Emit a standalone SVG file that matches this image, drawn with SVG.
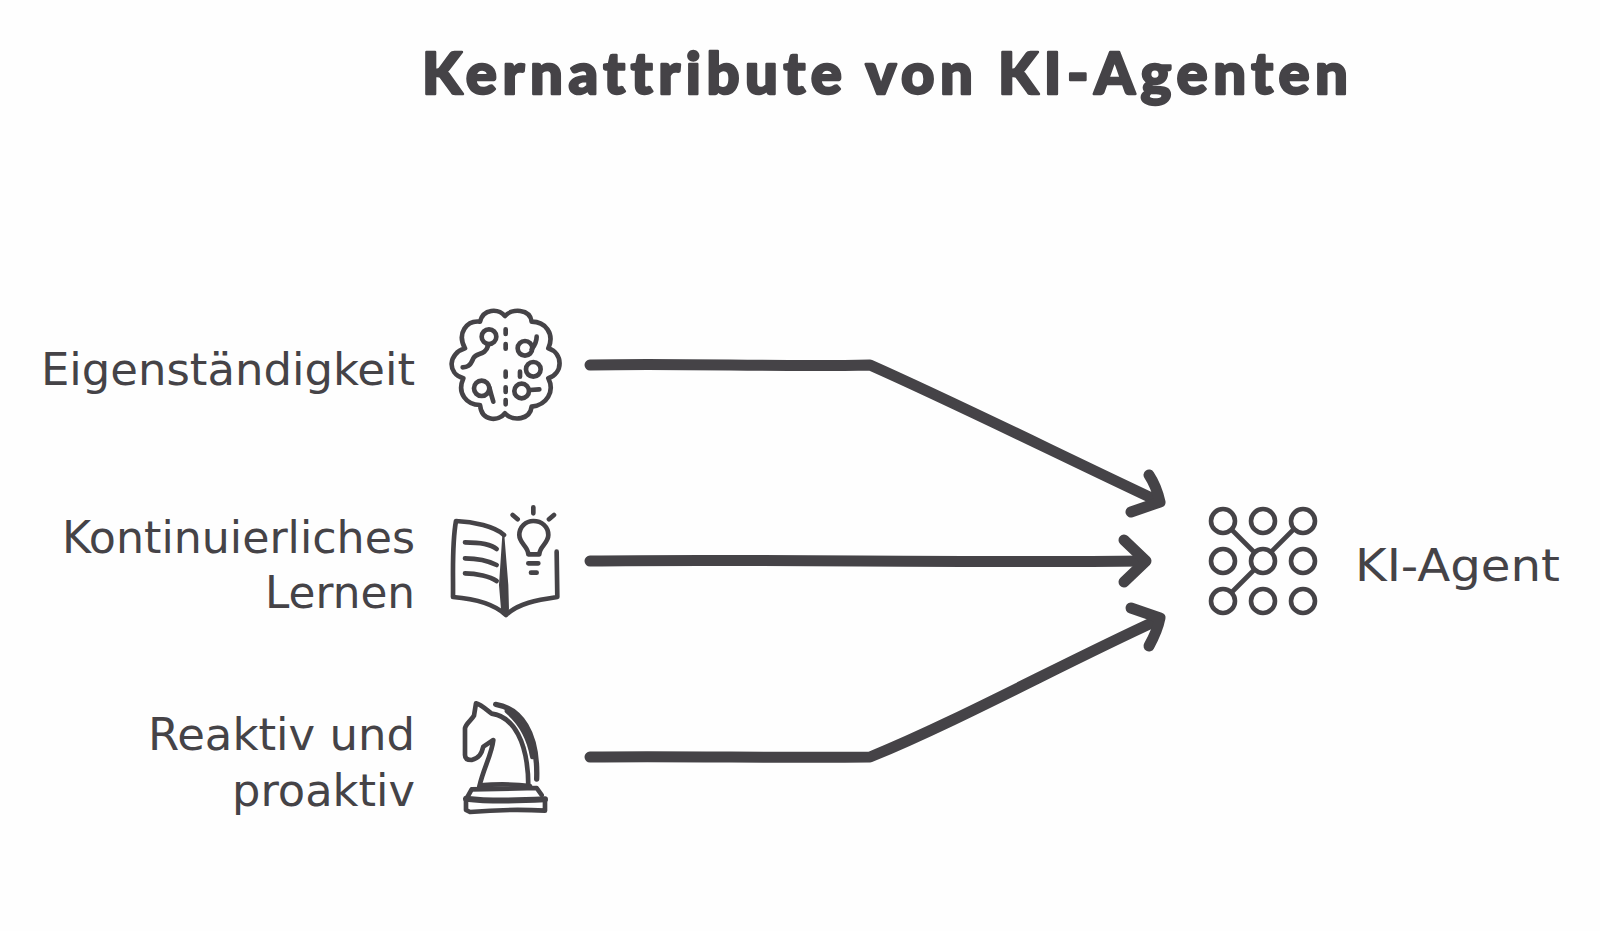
<svg xmlns="http://www.w3.org/2000/svg" width="1600" height="931" viewBox="0 0 1600 931">
<style>
text{fill:#454347;font-variant-ligatures:none}
.t{font-family:"Lato","Open Sans",sans-serif;font-size:58px;font-weight:900;stroke:#454347;stroke-width:2.4;stroke-linejoin:round}
.l{font-family:"DejaVu Sans","Lato",sans-serif;font-size:45px;font-weight:400}
.ic{fill:none;stroke:#454347;stroke-width:14;stroke-linecap:round;stroke-linejoin:round}
.n{fill:none;stroke:#454347;stroke-width:4.6;stroke-linecap:round}
.c{fill:none;stroke:#454347;stroke-width:11;stroke-linecap:round;stroke-linejoin:round}
</style>
<rect width="1600" height="931" fill="#fefefe"/>
<text id="title" class="t" x="422" y="94" textLength="926" lengthAdjust="spacing">Kernattribute von KI-Agenten</text>
<g id="connectors">
<path class="c" d="M590 365C680 363 780 367 870 365C960 405 1060 455 1158 501"/>
<path class="c" d="M1149 475C1155 484 1158 493 1160 502L1131 512"/>
<path class="c" d="M590 561C760 559 960 563 1144 561"/>
<path class="c" d="M1124 540L1146 561L1124 582"/>
<path class="c" d="M590 757C680 756 780 758 870 757C960 720 1060 665 1158 620"/>
<path class="c" d="M1131 608L1160 618C1158 628 1154 637 1149 646"/>
</g>
<g id="node-eigen">
<text class="l" x="41" y="385" textLength="374" lengthAdjust="spacingAndGlyphs">Eigenständigkeit</text>
<g class="ic" transform="translate(420 290) scale(.3333)">
<path d="M255 78C235 55 190 55 180 95C140 90 110 130 135 175C85 190 80 250 130 265C110 310 140 345 180 345C185 395 235 395 255 370C280 395 330 390 335 350C380 345 405 305 385 265C430 250 430 190 385 175C405 130 375 95 335 95C330 55 275 55 255 78Z"/>
<path d="M257 118V132M257 162V176M257 245V260M257 292V306M257 330V343M300 245V260"/>
<circle cx="207" cy="140" r="22"/>
<path d="M205 165C195 200 170 185 160 205C150 230 140 232 128 232"/>
<circle cx="315" cy="175" r="22"/>
<path d="M335 178C345 165 350 155 350 140"/>
<circle cx="340" cy="238" r="22"/>
<circle cx="185" cy="295" r="23"/>
<path d="M208 292C212 308 216 322 220 335"/>
<circle cx="305" cy="303" r="22"/>
<path d="M330 300L358 298"/>
</g>
</g>
<g id="node-lernen">
<text class="l" x="62" y="553" textLength="353" lengthAdjust="spacingAndGlyphs">Kontinuierliches</text>
<text class="l" x="265" y="608" textLength="150" lengthAdjust="spacingAndGlyphs">Lernen</text>
<g class="ic" transform="translate(420 485) scale(.3333)">
<path d="M252 150C225 125 160 110 108 108C95 180 100 260 99 336C150 340 215 350 258 390C295 355 350 345 412 336L410 200"/>
<path fill="#454347" stroke-width="6" d="M250 150L240 300L246 372L258 392L264 372L262 300Z"/>
<path d="M135 172C175 172 210 175 230 192M135 220C175 220 210 230 230 240M135 265C170 265 210 275 230 288"/>
<path d="M325 208C325 185 298 175 298 150C298 125 318 108 340 108C365 108 385 125 385 150C385 175 358 185 358 208Z"/>
<path d="M325 235H355M333 263H350M340 67V85M278 90L293 103M402 90L387 103"/>
</g>
</g>
<g id="node-reaktiv">
<text class="l" x="148" y="750" textLength="267" lengthAdjust="spacingAndGlyphs">Reaktiv und</text>
<text class="l" x="232" y="806" textLength="183" lengthAdjust="spacingAndGlyphs">proaktiv</text>
<g class="ic" transform="translate(430 675) scale(.3333)">
<path d="M148 335C160 280 185 240 190 195L160 215C155 235 148 250 125 255C112 255 105 250 105 240V160C108 145 125 135 132 122L138 85C155 90 170 105 185 116C250 125 295 200 295 335"/>
<path stroke-width="16" d="M197 88C270 100 325 170 320 312"/>
<path stroke-width="16" d="M232 108C270 140 298 190 308 245"/>
</g>
<g class="ic" transform="translate(430 760) scale(.3333)">
<path d="M150 76C200 72 250 72 300 78"/>
<path d="M110 115L125 88L320 84L335 105"/>
<path stroke-width="18" d="M108 116C190 126 270 122 345 118"/>
<path d="M108 116V150L120 156C190 150 270 148 345 152V118"/>
</g>
</g>
<g id="node-agent">
<text class="l" x="1355" y="581" textLength="205" lengthAdjust="spacingAndGlyphs">KI-Agent</text>
<g class="n">
<path d="M1232 530L1254 552M1293 530L1271 552M1232 592L1254 570"/>
<circle cx="1223" cy="521" r="12"/><circle cx="1263" cy="521" r="12"/><circle cx="1303" cy="521" r="12"/>
<circle cx="1223" cy="561" r="12"/><circle cx="1263" cy="561" r="12"/><circle cx="1303" cy="561" r="12"/>
<circle cx="1223" cy="601" r="12"/><circle cx="1263" cy="601" r="12"/><circle cx="1303" cy="601" r="12"/>
</g>
</g>
</svg>
